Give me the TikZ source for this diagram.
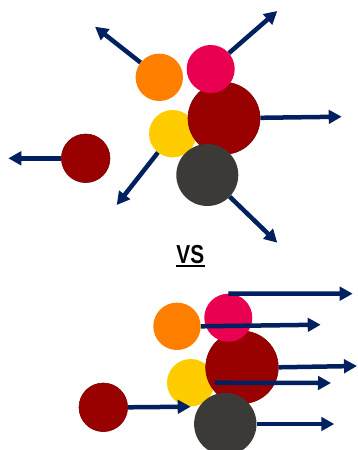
\documentclass[tikz,border=0pt]{standalone}
\usepackage{fontspec}
\setmainfont{Liberation Sans}
\usetikzlibrary{arrows.meta}

\definecolor{navy}{HTML}{002060}
\definecolor{ballorange}{HTML}{FF8000}
\definecolor{ballpink}{HTML}{EA0050}
\definecolor{ballred}{HTML}{990000}
\definecolor{ballyellow}{HTML}{FFCC00}
\definecolor{ballgray}{HTML}{3C3A37}

\tikzset{
  ball/.style={circle, inner sep=0pt, minimum size=#1},
  redball/.style={ball=#1, fill=ballred, draw=ballred!80!black, line width=0.6pt},
  push/.style={navy, line width=4.5pt, -{Triangle[length=13pt,width=13.5pt]}}
}

\begin{document}
\begin{tikzpicture}[x=1pt,y=-1pt]
                \useasboundingbox (0,0) rectangle (357,450);
                % before
                \node[ball=47.4, fill=ballorange] (o1) at (159.3,77.3) {};
                \node[ball=47.4, fill=ballyellow] (y1) at (172.7,133.7) {};
                \node[redball=72] (r1) at (224,118.3) {};
                \node[ball=48, fill=ballpink] (p1) at (210.7,69) {};
                \node[ball=62, fill=ballgray] (g1) at (207.3,175) {};
                \node[redball=48.6] (s1) at (85.7,158.3) {};
                \coordinate (o1end) at (95,26.7);
                \coordinate (p1end) at (277.3,11);
                \coordinate (r1end) at (341.7,116.7);
                \coordinate (y1end) at (116.7,205);
                \coordinate (g1end) at (277.3,242.7);
                \coordinate (s1end) at (8.3,158.3);
                \draw [push] (o1) -- (o1end);
                \draw [push] (p1) -- (p1end);
                \draw [push] (r1) -- (r1end);
                \draw [push] (y1) -- (y1end);
                \draw [push] (g1) -- (g1end);
                \draw [push] (s1) -- (s1end);
                % vs
                \node[anchor=base, inner sep=0pt, xscale=0.8, font=\bfseries\fontsize{26}{26}\selectfont] (vs) at (190.3,263.5) {VS};
                \draw [line width=2.2pt] (176,265.8) -- (204.6,265.8);
                % after
                \node[ball=47.4, fill=ballorange] (o2) at (177,326.3) {};
                \node[ball=47.4, fill=ballyellow] (y2) at (190.7,382.7) {};
                \node[redball=72.6] (r2) at (242,367.3) {};
                \node[ball=48, fill=ballpink] (p2) at (228.3,317.7) {};
                \node[ball=62.4, fill=ballgray] (g2) at (225.3,424) {};
                \node[redball=48.6] (s2) at (103.3,407.3) {};
                \coordinate (o2end) at (320.7,324.7);
                \coordinate (p2end) at (352.7,293.7);
                \coordinate (r2end) at (357,366);
                \coordinate (y2end) at (331,383);
                \coordinate (g2end) at (334.3,424);
                \coordinate (s2end) at (190.7,406.7);
                \draw [push] (p2.north) -- (p2end);
                \draw [push] (o2.east) -- (o2end);
                \draw [push] (r2.east) -- (r2end);
                \draw [push] (y2.east) -- (y2end);
                \draw [push] (g2.east) -- (g2end);
                \draw [push] (s2.east) -- (s2end);
\end{tikzpicture}
\end{document}
